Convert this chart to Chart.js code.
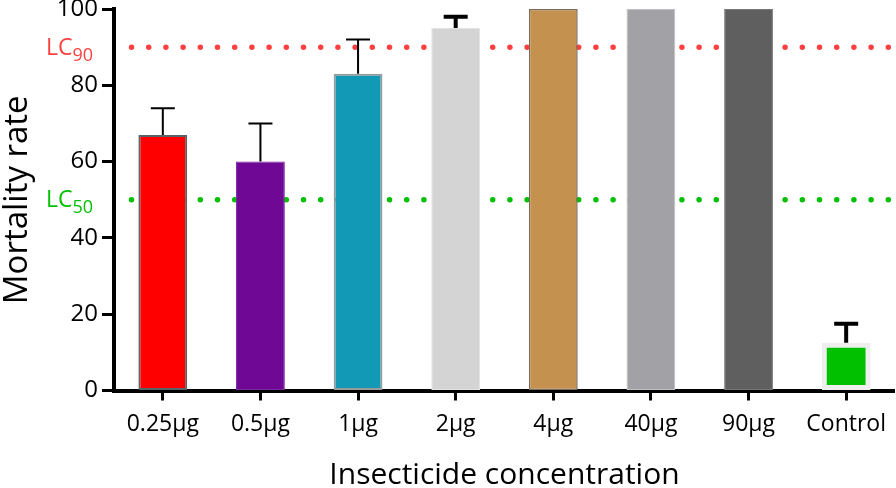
<!DOCTYPE html>
<html>
<head>
<meta charset="utf-8">
<style>
  html, body { margin: 0; padding: 0; background: #fff; }
  #wrap { width: 896px; height: 488px; }
</style>
<script src="https://cdn.jsdelivr.net/npm/chart.js@4.4.1/dist/chart.umd.min.js"></script>
</head>
<body>
<div id="wrap"><canvas id="mortality"></canvas></div>
<script>
"use strict";

// カテゴリ（濃度）
const concentrations = ["0.25μg", "0.5μg", "1μg", "2μg", "4μg", "40μg", "90μg", "Control"];
// 死亡率（平均）
const mortality = [67, 60, 83, 95, 100, 100, 100, 12.5];
// 誤差（上側のみ）
const mortalityErr = [7, 10, 9, 3, 0, 0, 0, 5];
// y軸目盛
const yTicks = [0, 20, 40, 60, 80, 100];
// 基準線
const lcLines = [
    { name: "LC", sub: "90", value: 90 },
    { name: "LC", sub: "50", value: 50 },
];

// 見た目
const barColors = ["#ff0000", "#6e0895", "#1299b6", "#d4d4d4", "#c4924e", "#a2a1a6", "#5f5f5f", "#00c000"];
const barBorders = ["#56646a", "#7a2aa0", "#9a9a9a", "#e2e2e2", "#7a6a58", "#c0c0c4", "#777777", "#eeeeee"];
const barBorderWidths = [2, 1, 2, 1, 1.5, 1, 1, 5];
const errLineWidths = [2, 2, 2, 4, 2, 2, 2, 4];
const lcColors = ["#ff4040", "#00c000"];
const FONT = "'Open Sans', sans-serif";

// 基準線（点線）とラベル
const lcPlugin = {
    id: "lcLines",
    beforeDatasetsDraw(chart) {
        const ctx = chart.ctx;
        const y = chart.scales.y;
        const area = chart.chartArea;
        ctx.save();
        lcLines.forEach((lc, i) => {
            const py = y.getPixelForValue(lc.value);
            ctx.strokeStyle = lcColors[i];
            ctx.lineWidth = 5.5;
            ctx.lineCap = "round";
            ctx.setLineDash([0, 17.2]);
            ctx.beginPath();
            ctx.moveTo(area.left + 17.5, py);
            ctx.lineTo(area.right + 3, py);
            ctx.stroke();
        });
        ctx.restore();
    },
    afterDraw(chart) {
        const ctx = chart.ctx;
        const y = chart.scales.y;
        ctx.save();
        lcLines.forEach((lc, i) => {
            const py = y.getPixelForValue(lc.value);
            ctx.fillStyle = lcColors[i];
            ctx.textBaseline = "alphabetic";
            ctx.textAlign = "left";
            ctx.font = "23px " + FONT;
            ctx.fillText(lc.name, 46, py + 7.5);
            const w = ctx.measureText(lc.name).width;
            ctx.font = "18px " + FONT;
            ctx.fillText(lc.sub, 46 + w, py + 13.5);
        });
        ctx.restore();
    }
};

// 誤差棒
const errPlugin = {
    id: "errBars",
    afterDatasetsDraw(chart) {
        const ctx = chart.ctx;
        const y = chart.scales.y;
        const meta = chart.getDatasetMeta(0);
        ctx.save();
        ctx.strokeStyle = "#000";
        ctx.lineCap = "butt";
        meta.data.forEach((bar, i) => {
            if (!mortalityErr[i]) return;
            const top = y.getPixelForValue(mortality[i] + mortalityErr[i]);
            ctx.lineWidth = errLineWidths[i];
            ctx.beginPath();
            ctx.moveTo(bar.x, bar.y);
            ctx.lineTo(bar.x, top);
            ctx.moveTo(bar.x - 12, top);
            ctx.lineTo(bar.x + 12, top);
            ctx.stroke();
        });
        ctx.restore();
    }
};

new Chart(document.getElementById("mortality"), {
    type: "bar",
    data: {
        labels: concentrations,
        datasets: [{
            data: mortality,
            backgroundColor: barColors,
            borderColor: barBorders,
            borderWidth: barBorderWidths,
            borderSkipped: false,
            barPercentage: 0.5,
            categoryPercentage: 1.0,
        }]
    },
    options: {
        responsive: true,
        maintainAspectRatio: false,
        animation: false,
        layout: { padding: { top: 9, right: 0, left: 0, bottom: 0 } },
        plugins: {
            legend: { display: false },
            tooltip: { enabled: false },
        },
        scales: {
            x: {
                grid: {
                    offset: false,
                    drawOnChartArea: false,
                    tickLength: 10,
                    tickWidth: 3,
                    tickColor: "#000",
                },
                border: { display: true, color: "#000", width: 4 },
                ticks: {
                    color: "#000",
                    font: { family: FONT, size: 23 },
                    padding: 10,
                    maxRotation: 0,
                    autoSkip: false,
                },
                title: {
                    display: true,
                    text: "Insecticide concentration",
                    color: "#000",
                    font: { family: FONT, size: 30 },
                    padding: { top: 4, bottom: -5 },
                },
                afterFit: scale => { scale.height = 97.5; },
            },
            y: {
                min: 0,
                max: 100,
                afterBuildTicks: scale => { scale.ticks = yTicks.map(v => ({ value: v })); },
                grid: {
                    drawOnChartArea: false,
                    tickLength: 12,
                    tickWidth: 3,
                    tickColor: "#000",
                },
                border: { display: true, color: "#000", width: 4 },
                ticks: {
                    color: "#000",
                    font: { family: FONT, size: 24, lineHeight: 0.3 },
                    padding: 4,
                },
                title: {
                    display: true,
                    text: "Mortality rate",
                    color: "#000",
                    font: { family: FONT, size: 33 },
                    padding: { top: -2.5, bottom: 0 },
                },
                afterFit: scale => { scale.width = 114; },
            }
        }
    },
    plugins: [lcPlugin, errPlugin]
});
</script>
</body>
</html>
